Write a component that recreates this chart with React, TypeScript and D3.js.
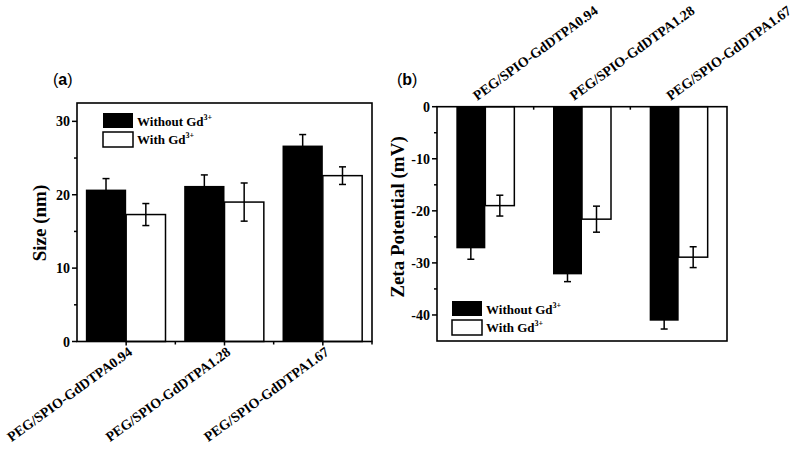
import * as d3 from 'd3'

const categories = ['PEG/SPIO-GdDTPA0.94', 'PEG/SPIO-GdDTPA1.28', 'PEG/SPIO-GdDTPA1.67']

// panel (a) size, nm
const sizeWithout = [20.7, 21.2, 26.7]
const sizeWithoutErr = [1.5, 1.5, 1.5]
const sizeWith = [17.3, 19.0, 22.6]
const sizeWithErr = [1.5, 2.6, 1.2]

// panel (b) zeta potential, mV
const zetaWithout = [-27.2, -32.2, -41.1]
const zetaWithoutErr = [2.1, 1.4, 1.6]
const zetaWith = [-19.0, -21.6, -28.9]
const zetaWithErr = [2.0, 2.5, 2.0]

const sizeTicks = [0, 10, 20, 30]
const zetaTicks = [0, -10, -20, -30, -40]

const serif = '"Liberation Serif", "Times New Roman", serif'
const sans = '"Liberation Sans", Arial, sans-serif'

const ErrBar = ({ x, y0, y1 }: { x: number; y0: number; y1: number }) => (
  <g stroke="#000" strokeWidth={1.5}>
    <line x1={x} x2={x} y1={y0} y2={y1} />
    <line x1={x - 3.5} x2={x + 3.5} y1={y0} y2={y0} />
    <line x1={x - 3.5} x2={x + 3.5} y1={y1} y2={y1} />
  </g>
)

const Legend = ({ x, y }: { x: number; y: number }) => (
  <g fontFamily={serif} fontWeight="bold" fontSize={13}>
    <rect x={x} y={y} width={30} height={15} fill="#000" />
    <rect x={x} y={y + 19} width={30} height={15} fill="#fff" stroke="#000" strokeWidth={1.5} />
    <text x={x + 34} y={y + 13}>
      Without Gd<tspan fontSize={8} dy={-6}>3+</tspan>
    </text>
    <text x={x + 34} y={y + 31}>
      With Gd<tspan fontSize={8} dy={-6}>3+</tspan>
    </text>
  </g>
)

const Rotated = ({ x, y, anchor, label }: { x: number; y: number; anchor: string; label: string }) => (
  <g transform={`translate(${x},${y})`}>
    <text transform="rotate(-36)" textAnchor={anchor} fontFamily={serif} fontWeight="bold" fontSize={14}>
      {label}
    </text>
  </g>
)

const App = () => {
  const xa = d3.scaleLinear().domain([0.5, 3.5]).range([77, 372])
  const ya = d3.scaleLinear().domain([0, 32.5]).range([341.5, 103])
  const xb = d3.scaleLinear().domain([0.5, 3.5]).range([437, 727])
  const yb = d3.scaleLinear().domain([-45, 0]).range([341, 106.7])

  const minorA = d3.range(5, 32, 10)
  const minorB = d3.range(-5, -45, -10)

  return (
    <svg width={800} height={449} style={{ position: 'absolute', left: 0, top: 0, background: '#fff' }}>
      {/* ---------- (a) ---------- */}
      <text x={53} y={85} fontFamily={sans} fontSize={16}>
        (<tspan fontWeight="bold">a</tspan>)
      </text>
      {categories.map((c, i) => {
        const cx = xa(i + 1)
        const w1 = xa(1.41) - xa(1)
        const w2 = xa(1.4) - xa(1)
        return (
          <g key={c}>
            <rect x={cx - w1} y={ya(sizeWithout[i])} width={w1} height={ya(0) - ya(sizeWithout[i])} fill="#000" />
            <ErrBar x={cx - w1 / 2} y0={ya(sizeWithout[i] + sizeWithoutErr[i])} y1={ya(sizeWithout[i] - sizeWithoutErr[i])} />
            <rect x={cx} y={ya(sizeWith[i])} width={w2} height={ya(0) - ya(sizeWith[i])} fill="#fff" stroke="#000" strokeWidth={1.5} />
            <ErrBar x={cx + w2 / 2} y0={ya(sizeWith[i] + sizeWithErr[i])} y1={ya(sizeWith[i] - sizeWithErr[i])} />
            <Rotated x={cx + 7} y={354} anchor="end" label={c} />
          </g>
        )
      })}
      <rect x={xa(0.5)} y={ya(32.5)} width={xa(3.5) - xa(0.5)} height={ya(0) - ya(32.5)} fill="none" stroke="#000" strokeWidth={1.6} />
      {sizeTicks.map((t) => (
        <g key={t}>
          <line x1={xa(0.5) - 5} x2={xa(0.5)} y1={ya(t)} y2={ya(t)} stroke="#000" strokeWidth={1.5} />
          <text x={xa(0.5) - 7} y={ya(t) + 5} textAnchor="end" fontFamily={serif} fontWeight="bold" fontSize={14}>
            {t}
          </text>
        </g>
      ))}
      {minorA.map((t) => (
        <line key={t} x1={xa(0.5) - 3} x2={xa(0.5)} y1={ya(t)} y2={ya(t)} stroke="#000" strokeWidth={1.5} />
      ))}
      {[1, 1.5, 2, 2.5, 3, 3.5].map((t) => (
        <line key={t} x1={xa(t)} x2={xa(t)} y1={ya(0)} y2={ya(0) + (t % 1 ? 3 : 4)} stroke="#000" strokeWidth={1.5} />
      ))}
      <text transform={`translate(46,223) rotate(-90)`} textAnchor="middle" fontFamily={serif} fontWeight="bold" fontSize={19}>
        Size (nm)
      </text>
      <Legend x={103} y={113} />

      {/* ---------- (b) ---------- */}
      <text x={397} y={85} fontFamily={sans} fontSize={16}>
        (<tspan fontWeight="bold">b</tspan>)
      </text>
      {categories.map((c, i) => {
        const cx = xb(i + 1)
        const w = xb(1.3) - xb(1)
        return (
          <g key={c}>
            <rect x={cx - w} y={yb(0)} width={w} height={yb(zetaWithout[i]) - yb(0)} fill="#000" />
            <ErrBar x={cx - w / 2} y0={yb(zetaWithout[i] + zetaWithoutErr[i])} y1={yb(zetaWithout[i] - zetaWithoutErr[i])} />
            <rect x={cx} y={yb(0)} width={w} height={yb(zetaWith[i]) - yb(0)} fill="#fff" stroke="#000" strokeWidth={1.5} />
            <ErrBar x={cx + w / 2} y0={yb(zetaWith[i] + zetaWithErr[i])} y1={yb(zetaWith[i] - zetaWithErr[i])} />
            <Rotated x={cx - 8} y={101} anchor="start" label={c} />
          </g>
        )
      })}
      <rect x={xb(0.5)} y={yb(0)} width={xb(3.5) - xb(0.5)} height={yb(-45) - yb(0)} fill="none" stroke="#000" strokeWidth={1.6} />
      {zetaTicks.map((t) => (
        <g key={t}>
          <line x1={xb(0.5) - 5} x2={xb(0.5)} y1={yb(t)} y2={yb(t)} stroke="#000" strokeWidth={1.5} />
          <text x={xb(0.5) - 7} y={yb(t) + 5} textAnchor="end" fontFamily={serif} fontWeight="bold" fontSize={14}>
            {t === 0 ? '0' : `-${Math.abs(t)}`}
          </text>
        </g>
      ))}
      {minorB.map((t) => (
        <line key={t} x1={xb(0.5) - 3} x2={xb(0.5)} y1={yb(t)} y2={yb(t)} stroke="#000" strokeWidth={1.5} />
      ))}
      {[1.5, 2.5].map((t) => (
        <line key={t} x1={xb(t)} x2={xb(t)} y1={yb(0)} y2={yb(0) + 3} stroke="#000" strokeWidth={1.5} />
      ))}
      <text transform={`translate(404,217) rotate(-90)`} textAnchor="middle" fontFamily={serif} fontWeight="bold" fontSize={19}>
        Zeta Potential (mV)
      </text>
      <Legend x={452} y={301} />
    </svg>
  )
}

export default App
